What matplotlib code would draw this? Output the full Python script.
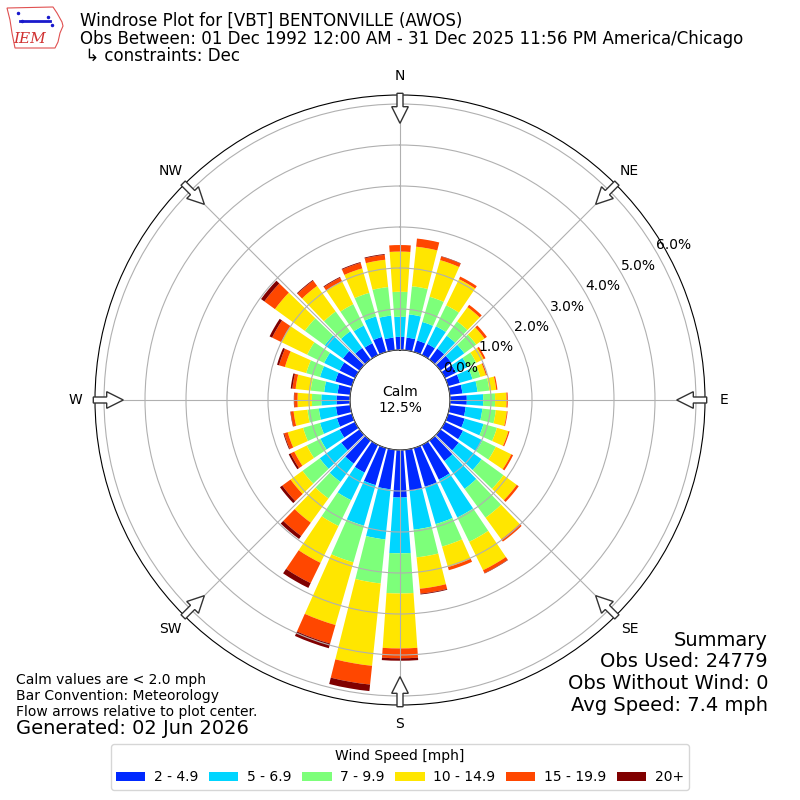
import numpy as np
import matplotlib
matplotlib.use("Agg")
import matplotlib.pyplot as plt
from matplotlib.patches import Polygon
from matplotlib.lines import Line2D

# wind direction bins (deg, meteorological) and speed bins
directions = np.arange(0, 360, 10)
speed_labels = ["2 - 4.9", "5 - 6.9", "7 - 9.9", "10 - 14.9", "15 - 19.9", "20+"]

pct_2_5 = [0.32, 0.31, 0.29, 0.30, 0.33, 0.33, 0.30, 0.30, 0.31, 0.41, 0.39, 0.42,
           0.49, 0.55, 0.62, 0.94, 0.98, 1.01, 1.16, 0.97, 0.94, 0.75, 0.70, 0.55,
           0.42, 0.38, 0.35, 0.33, 0.31, 0.42, 0.42, 0.50, 0.35, 0.32, 0.38, 0.31]
pct_5_7 = [0.49, 0.57, 0.47, 0.48, 0.39, 0.39, 0.32, 0.32, 0.37, 0.40, 0.41, 0.48,
           0.53, 0.69, 0.84, 1.03, 0.95, 0.95, 1.36, 1.23, 1.03, 0.75, 0.55, 0.65,
           0.52, 0.43, 0.42, 0.37, 0.33, 0.39, 0.42, 0.55, 0.50, 0.48, 0.52, 0.54]
pct_7_10 = [0.61, 0.69, 0.64, 0.57, 0.43, 0.36, 0.23, 0.20, 0.29, 0.29, 0.33, 0.34,
            0.36, 0.66, 0.87, 0.66, 0.57, 0.68, 0.98, 1.08, 0.93, 0.70, 0.50, 0.52,
            0.37, 0.43, 0.28, 0.23, 0.33, 0.35, 0.46, 0.60, 0.60, 0.58, 0.60, 0.70]
pct_10_15 = [0.98, 0.97, 0.93, 0.71, 0.43, 0.25, 0.20, 0.14, 0.17, 0.28, 0.27, 0.29,
             0.42, 0.40, 0.65, 0.77, 0.52, 0.77, 1.34, 2.02, 1.59, 1.00, 0.73, 0.36,
             0.34, 0.39, 0.34, 0.35, 0.37, 0.54, 0.70, 0.90, 0.77, 0.62, 0.62, 0.67]
pct_15_20 = [0.16, 0.20, 0.09, 0.07, 0.07, 0.07, 0.05, 0.03, 0.03, 0.03, 0.02, 0.03,
             0.05, 0.06, 0.07, 0.08, 0.08, 0.12, 0.24, 0.46, 0.47, 0.55, 0.40, 0.25,
             0.10, 0.09, 0.07, 0.08, 0.08, 0.15, 0.25, 0.32, 0.16, 0.10, 0.14, 0.12]
pct_20_up = [0.00, 0.00, 0.01, 0.00, 0.00, 0.00, 0.00, 0.00, 0.00, 0.00, 0.00, 0.00,
             0.00, 0.00, 0.00, 0.01, 0.00, 0.02, 0.06, 0.16, 0.12, 0.13, 0.09, 0.07,
             0.05, 0.02, 0.01, 0.01, 0.04, 0.05, 0.07, 0.10, 0.02, 0.02, 0.02, 0.02]
calm_pct = 12.5

compass = ["N", "NE", "E", "SE", "S", "SW", "W", "NW"]
rticks = [0, 1, 2, 3, 4, 5, 6]

summary = ["Summary", "Obs Used: 24779", "Obs Without Wind: 0", "Avg Speed: 7.4 mph"]
notes = ["Calm values are < 2.0 mph", "Bar Convention: Meteorology",
         "Flow arrows relative to plot center."]

W = 800.0


def fx(px):
    return px / W


def fy(py):
    return 1 - py / W


fig = plt.figure(figsize=(8, 8), dpi=100)
ax = fig.add_axes([0.11875, 0.11875, 0.7625, 0.7625], projection="polar")
ax.set_theta_zero_location("N")
ax.set_theta_direction(-1)

colors = plt.cm.jet(np.linspace(0, 1, 7)[1:])
theta = np.radians(directions)
width = np.radians(10) * 0.8
base = np.zeros(len(directions))
handles = []
for vals, c, lab in zip([pct_2_5, pct_5_7, pct_7_10, pct_10_15, pct_15_20, pct_20_up],
                        colors, speed_labels):
    vals = np.array(vals)
    b = ax.bar(theta, vals, width=width, bottom=base, color=c, lw=0, label=lab)
    handles.append(b)
    base = base + vals

ax.set_rorigin(-1.22)
ax.set_ylim(0, 6.22)
ax.set_yticks(rticks)
ax.set_yticklabels(["%.1f%%" % v for v in rticks], fontsize=10)
ax.set_rlabel_position(60)
ax.set_xticks(np.radians(np.arange(0, 360, 45)))
ax.set_xticklabels(compass, fontsize=10)
ax.set_axisbelow(False)
ax.grid(True, color="#b0b0b0", lw=0.8)

ax.text(0.5, 0.5, "Calm\n%.1f%%" % calm_pct, transform=ax.transAxes,
        ha="center", va="center", fontsize=10)

# flow arrows on the rim, pointing to the center
R = 610.0
shape = [(276.7, 0), (293.3, 8.3), (293.3, 3), (306.7, 3), (306.7, -3),
         (293.3, -3), (293.3, -8.3)]
for ang in np.arange(0, 360, 45):
    t = np.radians(ang)
    pts = []
    for a, c in shape:
        x = a * np.sin(t) + c * np.cos(t)
        y = a * np.cos(t) - c * np.sin(t)
        pts.append((0.5 + x / R, 0.5 + y / R))
    ax.add_patch(Polygon(pts, closed=True, transform=ax.transAxes, fc="white",
                         ec="#333333", lw=1, clip_on=False, zorder=5))

# titles
fig.text(fx(80), fy(12), "Windrose Plot for [VBT] BENTONVILLE (AWOS)", fontsize=12,
         va="top")
fig.text(fx(80), fy(30), "Obs Between: 01 Dec 1992 12:00 AM - 31 Dec 2025 11:56 PM America/Chicago",
         fontsize=12, va="top")
fig.text(fx(80), fy(47), " \u21b3 constraints: Dec", fontsize=12, va="top")

# rough IEM logo
iowa = [(7, 8), (53, 7), (57, 13), (62, 22), (63, 26), (60, 33), (58, 42), (55, 48),
        (15, 48), (12, 33), (10, 20)]
fig.add_artist(Polygon([(fx(x), fy(y)) for x, y in iowa], closed=True, fc="none",
                       ec="#e05050", lw=0.8, transform=fig.transFigure))
fig.add_artist(Line2D([fx(20), fx(50)], [fy(21), fy(21)], color="#1a1acc", lw=2,
                      transform=fig.transFigure))
fig.add_artist(Line2D([fx(18), fx(22), fx(48), fx(52)], [fy(13), fy(21), fy(17), fy(25)],
                      color="#1a1acc", lw=1.5, marker=".", ms=3, ls="none",
                      transform=fig.transFigure))
fig.text(fx(30), fy(39), "IEM", fontsize=11, color="#d03030", family="DejaVu Serif",
         style="italic", ha="center", va="center")

# notes bottom left
for i, line in enumerate(notes):
    fig.text(fx(16), fy(680 + 16 * i), line, fontsize=10, va="center")
fig.text(fx(16), fy(729), "Generated: 02 Jun 2026", fontsize=14, va="center")

# summary bottom right
for i, line in enumerate(summary):
    fig.text(fx(768), fy(640 + 21.7 * i), line, fontsize=14, ha="right", va="center")

fig.legend(handles=handles, labels=speed_labels, loc="lower center",
           bbox_to_anchor=(0.5, 0.004), ncol=6, fontsize=10,
           title="Wind Speed [mph]", title_fontsize=10, columnspacing=0.8,
           handlelength=2.1, handletextpad=0.6)

fig.savefig("out.png", dpi=100)
